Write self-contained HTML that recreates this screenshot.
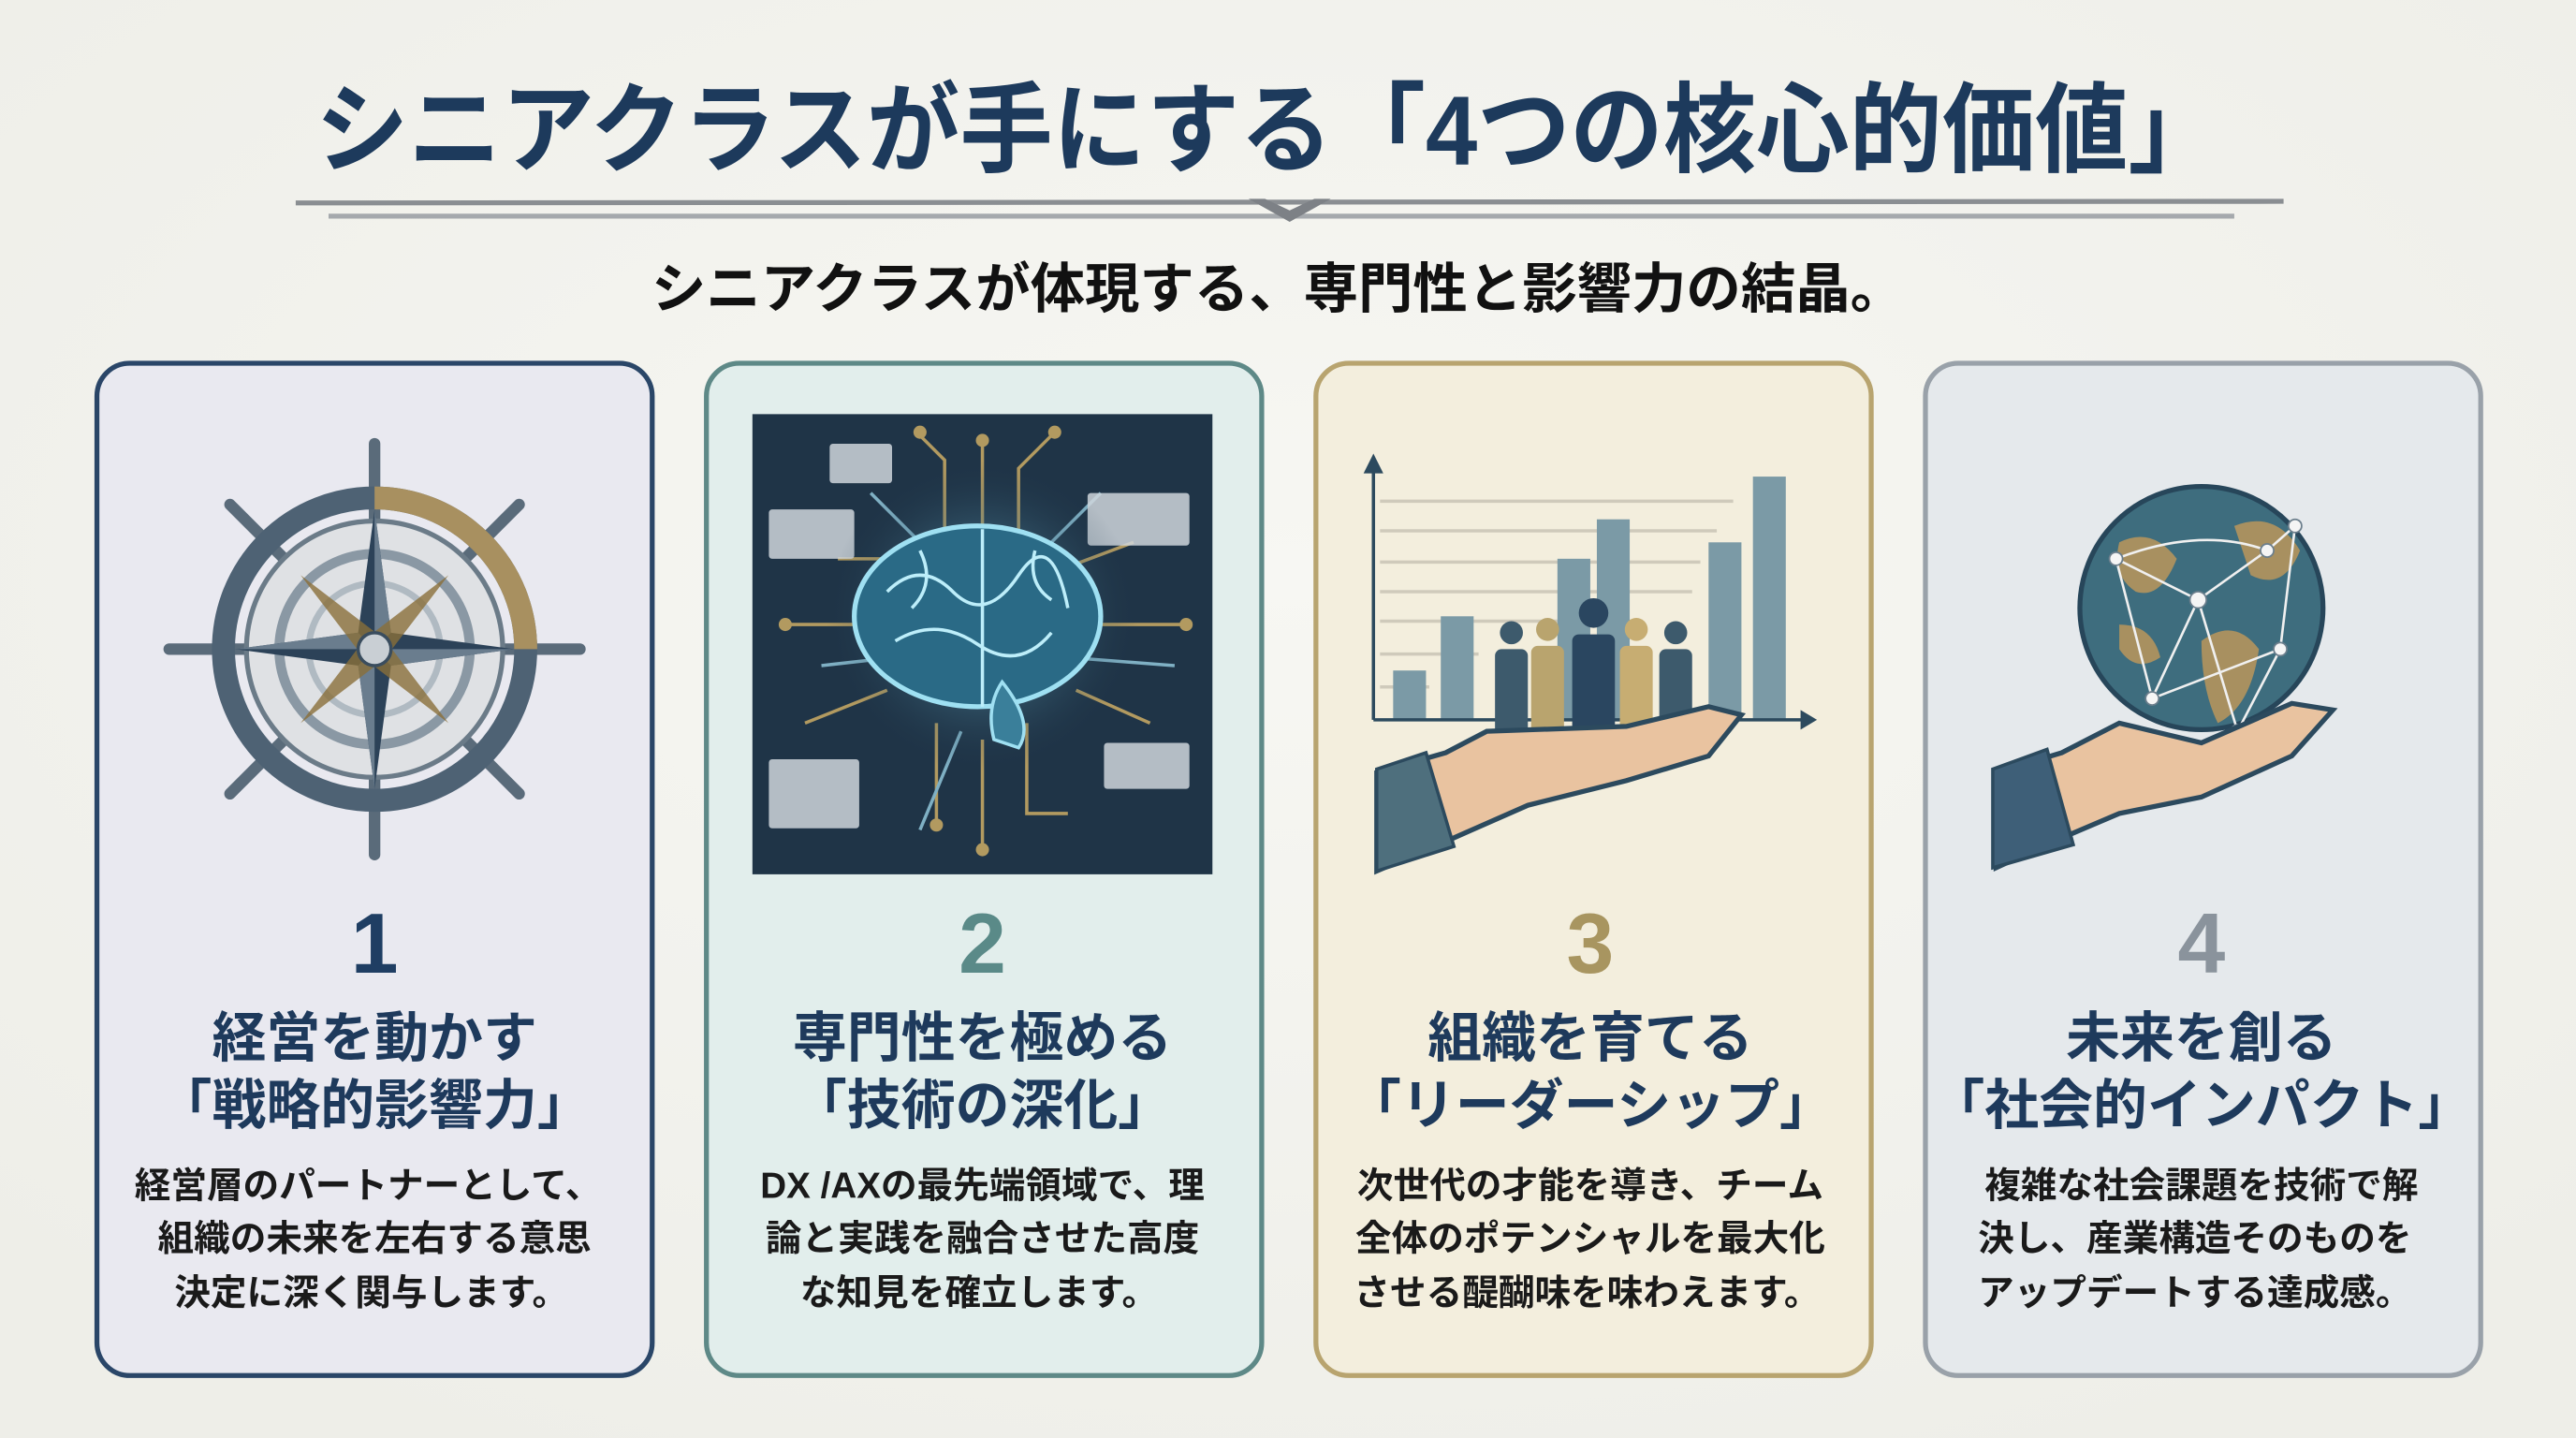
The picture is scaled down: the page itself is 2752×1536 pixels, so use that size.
<!DOCTYPE html>
<html><head><meta charset="utf-8"><style>
html,body{margin:0;padding:0;background:#f4f4ef;}
svg{display:block}
text{font-family:"Liberation Sans","Noto Sans CJK JP",sans-serif;font-weight:700;}
</style></head><body>
<svg width="2752" height="1536" viewBox="0 0 1568 875" preserveAspectRatio="none" xmlns="http://www.w3.org/2000/svg">
<defs>
<radialGradient id="bg" cx="50%" cy="40%" r="70%"><stop offset="0" stop-color="#f7f7f3"/><stop offset="1" stop-color="#eeeee8"/></radialGradient>
<radialGradient id="glow" cx="50%" cy="50%" r="50%"><stop offset="0" stop-color="#7fd8f0" stop-opacity=".8"/><stop offset="1" stop-color="#1e3346" stop-opacity="0"/></radialGradient>
</defs>
<rect width="1568" height="875" fill="url(#bg)"/>
<!-- title -->
<text x="772" y="100" text-anchor="middle" font-size="60" fill="#1d3a5c" textLength="1160" lengthAdjust="spacingAndGlyphs">シニアクラスが手にする「4つの核心的価値」</text>
<!-- divider -->
<path d="M180 122 L1390 121 L1390 124 L180 125Z" fill="#8a8e92"/>
<path d="M200 130 L1360 130 L1360 133 L200 133Z" fill="#a5a9ad"/>
<path d="M760 121 L785 135 L810 121 L800 121 L785 128 L770 121Z" fill="#7d8186"/>
<!-- subtitle -->
<text x="778" y="187" text-anchor="middle" font-size="33" fill="#111" textLength="763" lengthAdjust="spacingAndGlyphs">シニアクラスが体現する、専門性と影響力の結晶。</text>

<!-- cards -->
<rect x="59" y="221" width="338" height="616" rx="20" fill="#e9e9f0" stroke="#2a4668" stroke-width="3"/>
<rect x="430" y="221" width="338" height="616" rx="20" fill="#e2eeec" stroke="#5e8987" stroke-width="3"/>
<rect x="801" y="221" width="338" height="616" rx="20" fill="#f3eedd" stroke="#b8a46f" stroke-width="3"/>
<rect x="1172" y="221" width="338" height="616" rx="20" fill="#e5e9ec" stroke="#99a1a9" stroke-width="3"/>

<!-- card1 wheel -->
<g transform="translate(228,395)">
 <g stroke="#5a6b7a" stroke-width="7" stroke-linecap="round">
  <line x1="-125" y1="0" x2="125" y2="0"/><line x1="0" y1="-125" x2="0" y2="125"/>
  <line x1="-88" y1="-88" x2="88" y2="88"/><line x1="-88" y1="88" x2="88" y2="-88"/>
 </g>
 <circle r="92" fill="none" stroke="#4e6274" stroke-width="14"/>
 <path d="M0 -92 A92 92 0 0 1 92 0" fill="none" stroke="#a89060" stroke-width="14"/>
 <circle r="78" fill="#dfe1e4" stroke="#6b7b88" stroke-width="3"/>
 <circle r="58" fill="none" stroke="#8a98a4" stroke-width="6"/>
 <circle r="40" fill="none" stroke="#b0bac2" stroke-width="4"/>
 <path d="M0 -85 L10 -10 L85 0 L10 10 L0 85 L-10 10 L-85 0 L-10 -10Z" fill="#2c4258"/>
 <path d="M0 -85 L10 -10 L0 0Z M85 0 L10 10 L0 0Z M0 85 L-10 10 L0 0Z M-85 0 L-10 -10 L0 0Z" fill="#6a7d8e"/>
 <path d="M-45 -45 L6 -6 L45 45 L-6 6Z M45 -45 L6 6 L-45 45 L-6 -6Z" fill="#8a6f3a" opacity=".8"/>
 <circle r="10" fill="#c9cfd4" stroke="#3a4d5e" stroke-width="2"/>
</g>

<!-- card2 brain panel -->
<rect x="458" y="252" width="280" height="280" fill="#1f3447"/>
<g stroke="#b29a60" stroke-width="2" fill="none">
 <path d="M598 320 V270 M575 325 V280 L560 265 M620 325 V285 L640 265 M545 340 L510 340 M650 345 L690 330 M535 380 L480 380 M660 380 L720 380 M540 420 L490 440 M655 420 L700 440 M570 440 V500 M598 450 V515 M625 440 V495 L650 495"/>
 <path d="M560 330 L530 300 M640 330 L670 300 M545 400 L500 405 M650 400 L715 405 M585 445 L560 505" stroke="#7fb0c4"/>
</g>
<g fill="#b29a60"><circle cx="598" cy="268" r="4"/><circle cx="560" cy="263" r="4"/><circle cx="642" cy="263" r="4"/><circle cx="478" cy="380" r="4"/><circle cx="722" cy="380" r="4"/><circle cx="598" cy="517" r="4"/><circle cx="570" cy="502" r="4"/></g>
<g fill="#cfd6dc" opacity=".85">
 <rect x="505" y="270" width="38" height="24" rx="2"/><rect x="468" y="310" width="52" height="30" rx="2"/>
 <rect x="662" y="300" width="62" height="32" rx="2"/><rect x="672" y="452" width="52" height="28" rx="2"/>
 <rect x="468" y="462" width="55" height="42" rx="2"/>
</g>
<circle cx="598" cy="375" r="95" fill="url(#glow)"/>
<ellipse cx="595" cy="375" rx="75" ry="55" fill="#2a6a86" stroke="#9fe0f2" stroke-width="3"/>
<g stroke="#bdeefa" stroke-width="2" fill="none"><path d="M540 360 Q560 340 580 360 T620 350 T650 370 M545 390 Q570 375 595 392 T640 385 M598 322 V430 M560 335 Q570 355 555 370 M630 335 Q625 355 640 365"/></g>
<path d="M610 415 Q630 440 620 455 L605 450 Q600 430 610 415Z" fill="#3a7f9a" stroke="#9fe0f2" stroke-width="2"/>

<!-- card3 chart -->
<g stroke="#cfcabb" stroke-width="2">
 <line x1="840" y1="305" x2="1055" y2="305"/><line x1="840" y1="323" x2="1045" y2="323"/><line x1="840" y1="342" x2="1035" y2="342"/><line x1="840" y1="360" x2="1030" y2="360"/><line x1="840" y1="378" x2="1000" y2="378"/><line x1="840" y1="398" x2="900" y2="398"/><line x1="840" y1="418" x2="870" y2="418"/>
</g>
<g fill="#7b9aa6"><rect x="848" y="408" width="20" height="30"/><rect x="877" y="375" width="20" height="63"/><rect x="948" y="340" width="20" height="98"/><rect x="972" y="316" width="20" height="122"/><rect x="1040" y="330" width="20" height="108"/><rect x="1067" y="290" width="20" height="148"/></g>
<path d="M836 438 V282" stroke="#2c4a5e" stroke-width="2"/><path d="M830 288 L836 276 L842 288Z" fill="#2c4a5e"/>
<path d="M836 438 H1100" stroke="#2c4a5e" stroke-width="2"/><path d="M1096 432 L1106 438 L1096 444Z" fill="#2c4a5e"/>
<g>
 <circle cx="920" cy="385" r="7" fill="#3d5a6c"/><rect x="910" y="395" width="20" height="55" rx="4" fill="#3d5a6c"/>
 <circle cx="942" cy="383" r="7" fill="#b9a46e"/><rect x="932" y="393" width="20" height="57" rx="4" fill="#b9a46e"/>
 <circle cx="970" cy="373" r="9" fill="#2a4660"/><rect x="957" y="386" width="26" height="64" rx="4" fill="#2a4660"/>
 <circle cx="996" cy="383" r="7" fill="#c7ad72"/><rect x="986" y="393" width="20" height="57" rx="4" fill="#c7ad72"/>
 <circle cx="1020" cy="385" r="7" fill="#3d5a6c"/><rect x="1010" y="395" width="20" height="55" rx="4" fill="#3d5a6c"/>
</g>
<path d="M838 470 L880 458 L905 445 L990 442 L1040 430 L1060 435 L1040 460 L990 475 L930 490 L880 512 L838 530Z" fill="#e9c3a0" stroke="#2c4a5e" stroke-width="3"/>
<path d="M838 468 L868 458 L885 515 L838 530Z" fill="#4e6f7d" stroke="#2c4a5e" stroke-width="2"/>

<!-- card4 globe -->
<circle cx="1340" cy="370" r="74" fill="#3e6d7e" stroke="#27465a" stroke-width="3"/>
<path d="M1290 330 Q1310 320 1325 340 Q1315 365 1300 360 Q1285 350 1290 330Z M1340 390 Q1360 375 1375 395 Q1370 430 1350 440 Q1340 420 1340 390Z M1360 320 Q1385 310 1400 335 Q1390 360 1370 350Z M1290 380 Q1310 380 1315 400 Q1300 410 1290 395Z" fill="#a89060"/>
<g stroke="#f0f0f0" stroke-width="1.5" fill="none"><path d="M1288 340 L1338 365 L1380 335 L1397 320 L1388 395 L1362 445 L1338 365 L1310 425 L1288 340 M1310 425 L1388 395 M1288 340 Q1340 320 1380 335"/></g>
<g fill="#f5f5f5" stroke="#6b7e8c"><circle cx="1288" cy="340" r="4"/><circle cx="1338" cy="365" r="5"/><circle cx="1380" cy="335" r="4"/><circle cx="1397" cy="320" r="4"/><circle cx="1388" cy="395" r="4"/><circle cx="1362" cy="445" r="4"/><circle cx="1310" cy="425" r="4"/></g>
<path d="M1215 470 L1255 458 L1290 440 L1340 452 L1395 428 L1420 432 L1395 460 L1340 485 L1290 495 L1250 512 L1215 528Z" fill="#e9c3a0" stroke="#2c4a5e" stroke-width="3"/>
<path d="M1213 468 L1246 456 L1262 514 L1213 528Z" fill="#3e5f78" stroke="#2c4a5e" stroke-width="2"/>

<!-- numbers -->
<text x="228" y="592" text-anchor="middle" font-size="52" fill="#1f3e63">1</text>
<text x="598" y="592" text-anchor="middle" font-size="52" fill="#5a8a88">2</text>
<text x="968" y="592" text-anchor="middle" font-size="52" fill="#a89560">3</text>
<text x="1340" y="592" text-anchor="middle" font-size="52" fill="#8a939c">4</text>

<!-- headings -->
<g font-size="33" fill="#1e3a5c" text-anchor="middle">
<text x="228" y="643">経営を動かす</text><text x="228" y="684">「戦略的影響力」</text>
<text x="598" y="643">専門性を極める</text><text x="598" y="684">「技術の深化」</text>
<text x="968" y="643">組織を育てる</text><text x="968" y="684">「リーダーシップ」</text>
<text x="1340" y="643">未来を創る</text><text x="1340" y="684">「社会的インパクト」</text>
</g>
<!-- body -->
<g font-size="22" fill="#1a1a1a" text-anchor="middle">
<text x="224" y="729">経営層のパートナーとして、</text><text x="228" y="761">組織の未来を左右する意思</text><text x="226" y="794">決定に深く関与します。</text>
<text x="598" y="729">DX /AXの最先端領域で、理</text><text x="598" y="761">論と実践を融合させた高度</text><text x="596" y="794">な知見を確立します。</text>
<text x="968" y="729">次世代の才能を導き、チーム</text><text x="968" y="761">全体のポテンシャルを最大化</text><text x="966" y="794">させる醍醐味を味わえます。</text>
<text x="1340" y="729">複雑な社会課題を技術で解</text><text x="1336" y="761">決し、産業構造そのものを</text><text x="1336" y="794">アップデートする達成感。</text>
</g>
</svg>
</body></html>
